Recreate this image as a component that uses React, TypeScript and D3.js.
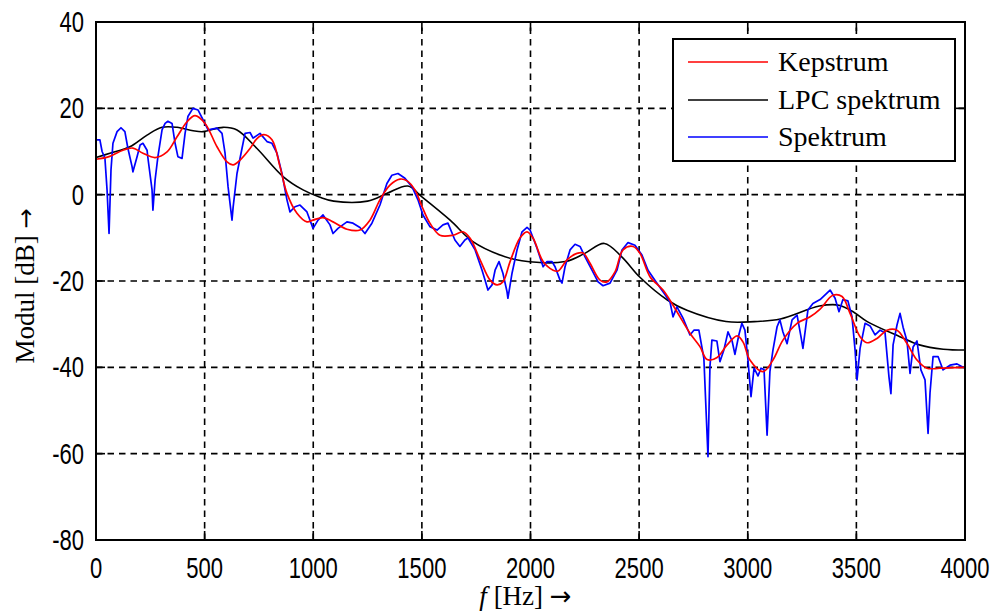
import React from 'react';
import * as d3 from 'd3';

// frequency (Hz) / magnitude (dB)
const lpcFreq = [0, 64, 156, 235, 304, 373, 447, 493, 585, 649, 741, 861, 953, 1031, 1094, 1250, 1340, 1436, 1500, 1630, 1735, 1860, 1960, 2160, 2250, 2340, 2420, 2505, 2630, 2720, 2900, 3030, 3150, 3330, 3420, 3490, 3550, 3700, 3790, 3900, 4000];
const lpcDb = [8.6, 9.6, 11.1, 13.8, 15.6, 15.6, 14.8, 14.6, 15.6, 15.0, 10.7, 4.2, 1.1, -0.6, -1.5, -1.5, 0.3, 2.0, -0.5, -5.9, -10.9, -14, -15.3, -15.5, -13.6, -11.3, -14.4, -19.2, -24.4, -26.8, -29.4, -29.4, -28.8, -25.8, -25.6, -27.3, -29.4, -32.9, -34.8, -35.8, -36];

const kepFreq = [0, 60, 124, 170, 216, 272, 327, 373, 419, 456, 502, 557, 603, 631, 663, 709, 741, 773, 810, 847, 879, 925, 971, 999, 1045, 1091, 1155, 1215, 1261, 1307, 1353, 1399, 1432, 1468, 1501, 1537, 1583, 1643, 1689, 1722, 1768, 1814, 1846, 1873, 1906, 1952, 1984, 2012, 2058, 2104, 2127, 2168, 2214, 2242, 2274, 2320, 2352, 2389, 2426, 2472, 2504, 2550, 2610, 2656, 2734, 2780, 2813, 2859, 2905, 2951, 2978, 3010, 3070, 3116, 3162, 3227, 3287, 3333, 3392, 3434, 3471, 3517, 3549, 3595, 3641, 3687, 3733, 3779, 3825, 3885, 3991, 4000];
const kepDb = [8.2, 8.8, 10.3, 10.8, 9.6, 8.6, 9.9, 13.4, 16.9, 18.3, 16.5, 11.1, 7.6, 6.9, 8, 10.7, 13, 13.9, 12.7, 6.5, 0.3, -4.3, -6.3, -5.9, -5.3, -6.3, -8.0, -8.2, -5.9, -1.2, 2.2, 3.6, 3.2, 1.1, -2.8, -6.6, -9.4, -9.4, -8.6, -10.1, -15.1, -19.8, -20.9, -20.2, -15.5, -10, -8.6, -10.1, -15.5, -17.5, -17.7, -15.1, -13.6, -13.5, -15.9, -19.8, -20.2, -17.9, -12.8, -12, -13.6, -19, -22.1, -25.6, -32.1, -35.2, -38.2, -37.7, -34.8, -32.7, -34.1, -38.3, -41, -38.3, -33.7, -29.8, -28.3, -26.5, -23.3, -23.6, -27.5, -32.9, -34.3, -33.3, -31.4, -31.4, -34.5, -38.3, -40.2, -40.2, -40, -40];

const specFreq = [0, 18, 28, 41, 51, 60, 69, 78, 97, 115, 133, 147, 166, 170, 189, 203, 216, 235, 239, 258, 262, 272, 285, 304, 318, 331, 350, 364, 377, 396, 410, 423, 446, 470, 493, 516, 557, 580, 594, 608, 626, 631, 649, 672, 686, 709, 723, 755, 787, 810, 833, 856, 879, 893, 916, 939, 971, 999, 1022, 1045, 1077, 1091, 1114, 1155, 1183, 1215, 1238, 1270, 1307, 1339, 1362, 1390, 1422, 1455, 1482, 1505, 1537, 1570, 1597, 1620, 1652, 1675, 1698, 1712, 1745, 1777, 1791, 1804, 1823, 1837, 1855, 1873, 1892, 1896, 1915, 1938, 1961, 1984, 1998, 2030, 2058, 2076, 2099, 2113, 2136, 2145, 2159, 2182, 2205, 2228, 2251, 2283, 2311, 2334, 2366, 2398, 2421, 2449, 2481, 2513, 2541, 2582, 2610, 2642, 2656, 2674, 2702, 2734, 2752, 2775, 2798, 2817, 2826, 2835, 2858, 2872, 2890, 2909, 2928, 2941, 2959, 2973, 2987, 3001, 3015, 3029, 3047, 3061, 3075, 3089, 3102, 3116, 3135, 3148, 3162, 3181, 3204, 3227, 3245, 3254, 3277, 3300, 3333, 3379, 3402, 3420, 3438, 3461, 3480, 3494, 3503, 3517, 3540, 3563, 3586, 3609, 3632, 3650, 3659, 3669, 3687, 3701, 3715, 3733, 3747, 3761, 3779, 3797, 3816, 3830, 3839, 3853, 3876, 3899, 3931, 3963, 3991, 4000];
const specDb = [12.7, 12.7, 10, 8.5, 1, -9, 5.7, 11.9, 14.6, 15.5, 14.6, 10.7, 6.5, 5.3, 8.8, 11.5, 11.9, 10.3, 8.5, 1.1, -3.6, 3.4, 8.8, 15, 16.5, 17, 16.5, 11.9, 8.8, 8.4, 14.2, 18.1, 20, 19.6, 17.3, 15, 15.4, 14.2, 9.6, 1.8, -5.9, -3, 4.9, 10.7, 14.2, 14.4, 13.1, 14.2, 12.3, 11.9, 9.6, 4.9, -1.2, -4, -2.8, -2.4, -4, -7.8, -5.9, -4.7, -7, -9, -7.8, -6.3, -6.6, -7.6, -9, -6.6, -2.4, 2.6, 4.5, 4.9, 3.8, 1.8, -1.2, -4.7, -7.4, -8.2, -7, -6.6, -10.5, -12, -10.5, -10, -12.8, -17.5, -19.8, -22.1, -20.9, -17.5, -15.5, -18.2, -22.5, -24, -18.2, -12.8, -8.6, -7.6, -8.2, -12.4, -16.7, -15.5, -15.5, -16.7, -19.8, -20.5, -16.7, -12.8, -11.5, -12, -14.4, -17.5, -20.2, -21.1, -20.5, -17.5, -12.8, -11.1, -11.7, -14, -17.5, -20.5, -22.5, -24.8, -28.3, -26, -28.6, -32.5, -31.4, -31.4, -37.9, -60.7, -39.9, -33.7, -33.9, -38.7, -36, -31.8, -33.9, -37, -32.5, -29.8, -31.4, -38.3, -46.8, -40.2, -42, -40.2, -40.5, -55.7, -41, -36, -30.6, -29, -31.8, -34.5, -29, -27.9, -32.9, -35.6, -26.7, -25.2, -24.3, -22.1, -24, -27.1, -24.3, -24.6, -28.3, -36, -42.9, -35.6, -29.8, -30.4, -32.5, -31.4, -32, -42.2, -46.1, -34.8, -30.2, -27.5, -30.7, -33.9, -41.4, -35.3, -33.9, -40.6, -42.9, -55.3, -45.9, -37.5, -37.5, -40.6, -39.5, -39.2, -40, -40];

const xTicks = [0, 500, 1000, 1500, 2000, 2500, 3000, 3500, 4000];
const yTicks = [-80, -60, -40, -20, 0, 20, 40];
const legendNames = ['Kepstrum', 'LPC spektrum', 'Spektrum'];
const legendColors = ['#ff0000', '#000000', '#0000ff'];

export default function App() {
  const width = 994;
  const height = 611;
  const margin = { top: 22, right: 29, bottom: 71, left: 96 };

  const x = d3.scaleLinear().domain([0, 4000]).range([margin.left, width - margin.right]);
  const y = d3.scaleLinear().domain([-80, 40]).range([height - margin.bottom, margin.top]);

  const makeLine = (fs: number[], ds: number[], curved: boolean) => {
    const pts: [number, number][] = fs.map((f, i) => [x(f), y(ds[i])]);
    const gen = d3.line().curve(curved ? d3.curveCatmullRom : d3.curveLinear);
    return gen(pts) || '';
  };

  const x0 = x(0), x1 = x(4000), y0 = y(-80), y1 = y(40);
  const tickLen = 9;
  const gridDash = '6.5,5';
  const tickFont = { fontFamily: '"Liberation Sans", Arial, sans-serif', fontSize: 29 };
  const serif = '"Liberation Serif", "Times New Roman", serif';
  const arrowFont = '"DejaVu Sans", sans-serif';

  const legX = 673, legY = 39, legW = 282, legH = 122;
  const rowY = [62, 100, 137];

  return (
    <svg width={width} height={height} style={{ position: 'absolute', left: 0, top: 0, background: '#fff' }}>
      <rect x={0} y={0} width={width} height={height} fill="#fff" />
      {/* grid */}
      <g stroke="#000" strokeWidth={1.6} strokeDasharray={gridDash}>
        {xTicks.slice(1, -1).map(t => (
          <line key={'gx' + t} x1={x(t)} x2={x(t)} y1={y0} y2={y1} />
        ))}
        {yTicks.slice(1, -1).map(t => (
          <line key={'gy' + t} x1={x0} x2={x1} y1={y(t)} y2={y(t)} />
        ))}
      </g>
      {/* ticks on all sides */}
      <g stroke="#000" strokeWidth={1.6}>
        {xTicks.map(t => (
          <g key={'tx' + t}>
            <line x1={x(t)} x2={x(t)} y1={y0} y2={y0 - tickLen} />
            <line x1={x(t)} x2={x(t)} y1={y1} y2={y1 + tickLen} />
          </g>
        ))}
        {yTicks.map(t => (
          <g key={'ty' + t}>
            <line x1={x0} x2={x0 + tickLen} y1={y(t)} y2={y(t)} />
            <line x1={x1} x2={x1 - tickLen} y1={y(t)} y2={y(t)} />
          </g>
        ))}
      </g>
      {/* series */}
      <g fill="none" strokeLinejoin="round">
        <path d={makeLine(lpcFreq, lpcDb, true)} stroke="#000" strokeWidth={1.6} />
        <path d={makeLine(specFreq, specDb, false)} stroke="#0000ff" strokeWidth={1.7} />
        <path d={makeLine(kepFreq, kepDb, true)} stroke="#ff0000" strokeWidth={1.7} />
      </g>
      {/* axes box */}
      <rect x={x0} y={y1} width={x1 - x0} height={y0 - y1} fill="none" stroke="#000" strokeWidth={2} />
      {/* tick labels */}
      {xTicks.map(t => (
        <text key={'lx' + t} transform={`translate(${x(t)},${y0 + 38}) scale(0.76,1)`} textAnchor="middle" {...tickFont}>
          {t}
        </text>
      ))}
      {yTicks.map(t => (
        <text key={'ly' + t} transform={`translate(${x0 - 12},${y(t) + 10}) scale(0.76,1)`} textAnchor="end" {...tickFont}>
          {t}
        </text>
      ))}
      {/* axis labels */}
      <text transform={`translate(34,${(y0 + y1) / 2 + 5}) rotate(-90)`} textAnchor="middle"
        fontFamily={serif} fontSize={27}>
        Modul [dB] <tspan fontFamily={arrowFont} fontSize={24}>→</tspan>
      </text>
      <text x={(x0 + x1) / 2 - 5} y={605} textAnchor="middle" fontFamily={serif} fontSize={27}>
        <tspan fontStyle="italic">f</tspan> [Hz] <tspan fontFamily={arrowFont} fontSize={26}>→</tspan>
      </text>
      {/* legend */}
      <rect x={legX} y={legY} width={legW} height={legH} fill="#fff" stroke="#000" strokeWidth={2} />
      {legendNames.map((name, i) => (
        <g key={name}>
          <line x1={688} x2={768} y1={rowY[i]} y2={rowY[i]} stroke={legendColors[i]} strokeWidth={1.7} />
          <text x={778} y={rowY[i] + 9} fontFamily={serif} fontSize={28}>
            {name}
          </text>
        </g>
      ))}
    </svg>
  );
}
